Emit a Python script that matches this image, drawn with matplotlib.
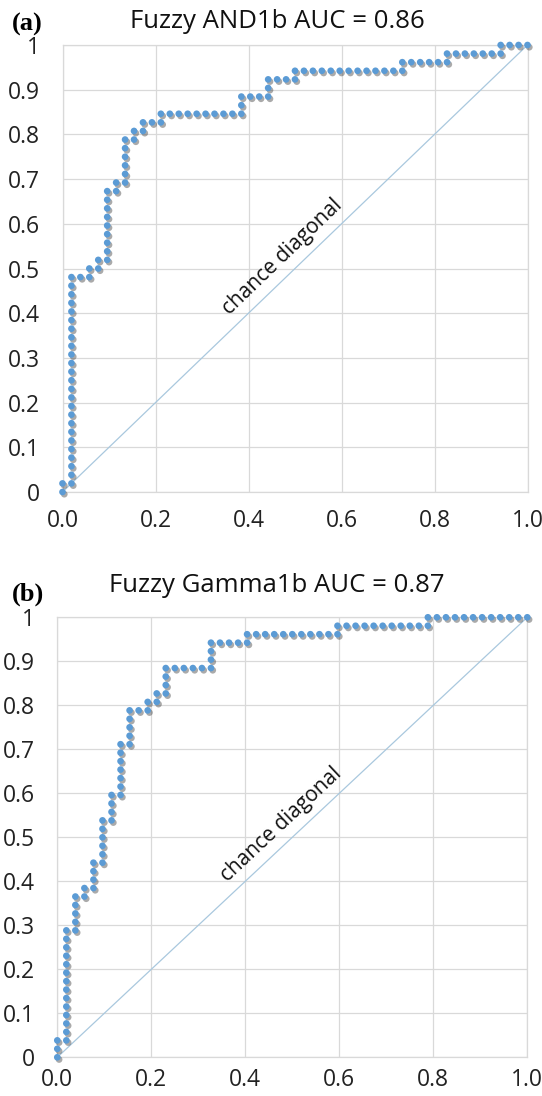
import numpy as np
import matplotlib
matplotlib.use("Agg")
import matplotlib.pyplot as plt
import matplotlib.patheffects as pe

# ROC points as counts: false positives / true positives (52 negatives, 52 positives)
n_neg = 52
n_pos = 52

fp_a = [0, 0, 1,
        1, 1, 1, 1, 1, 1, 1, 1, 1, 1, 1, 1, 1, 1, 1, 1, 1, 1, 1, 1, 1, 1, 1, 1,
        2, 3, 3, 4, 4, 5,
        5, 5, 5, 5, 5, 5, 5, 5,
        6, 6, 7,
        7, 7, 7, 7, 7,
        8, 8, 9, 9, 10, 11, 11,
        12, 13, 14, 15, 16, 17, 18, 19, 20,
        20, 20, 21, 22, 23, 23, 23, 24, 25, 26, 26,
        27, 28, 29, 30, 31, 32, 33, 34, 35, 36, 37, 38,
        38, 39, 40, 41, 42, 43,
        43, 44, 45, 46, 47, 48, 49,
        49, 50, 51, 52]
tp_a = [0, 1, 1,
        2, 3, 4, 5, 6, 7, 8, 9, 10, 11, 12, 13, 14, 15, 16, 17, 18, 19, 20, 21, 22, 23, 24, 25,
        25, 25, 26, 26, 27, 27,
        28, 29, 30, 31, 32, 33, 34, 35,
        35, 36, 36,
        37, 38, 39, 40, 41,
        41, 42, 42, 43, 43, 43, 44,
        44, 44, 44, 44, 44, 44, 44, 44, 44,
        45, 46, 46, 46, 46, 47, 48, 48, 48, 48, 49,
        49, 49, 49, 49, 49, 49, 49, 49, 49, 49, 49, 49,
        50, 50, 50, 50, 50, 50,
        51, 51, 51, 51, 51, 51, 51,
        52, 52, 52, 52]

fp_b = [0, 0, 0, 1,
        1, 1, 1, 1, 1, 1, 1, 1, 1, 1, 1, 1, 1,
        2, 2, 2, 2, 2,
        3, 3, 4, 4, 4, 4, 5, 5, 5, 5, 5, 5,
        6, 6, 6, 6, 7, 7, 7, 7, 7, 7, 7,
        8, 8, 8, 8, 8, 9, 10, 10, 11, 11, 12, 12, 12, 12,
        13, 14, 15, 16, 17, 17, 17, 17, 18, 19, 20, 21,
        21, 22, 23, 24, 25, 26, 27, 28, 29, 30, 31,
        31, 32, 33, 34, 35, 36, 37, 38, 39, 40, 41,
        41, 42, 43, 44, 45, 46, 47, 48, 49, 50, 51, 52]
tp_b = [0, 1, 2, 2,
        3, 4, 5, 6, 7, 8, 9, 10, 11, 12, 13, 14, 15,
        15, 16, 17, 18, 19,
        19, 20, 20, 21, 22, 23, 23, 24, 25, 26, 27, 28,
        28, 29, 30, 31, 31, 32, 33, 34, 35, 36, 37,
        37, 38, 39, 40, 41, 41, 41, 42, 42, 43, 43, 44, 45, 46,
        46, 46, 46, 46, 46, 47, 48, 49, 49, 49, 49, 49,
        50, 50, 50, 50, 50, 50, 50, 50, 50, 50, 50,
        51, 51, 51, 51, 51, 51, 51, 51, 51, 51, 51,
        52, 52, 52, 52, 52, 52, 52, 52, 52, 52, 52, 52]

titles = ["Fuzzy AND1b AUC = 0.86", "Fuzzy Gamma1b AUC = 0.87"]
panel_tags = ["(a)", "(b)"]
x_ticks = [0.0, 0.2, 0.4, 0.6, 0.8, 1.0]
x_labels = ["0.0", "0.2", "0.4", "0.6", "0.8", "1.0"]
y_ticks = [0, 0.1, 0.2, 0.3, 0.4, 0.5, 0.6, 0.7, 0.8, 0.9, 1.0]
y_labels = ["0", "0.1", "0.2", "0.3", "0.4", "0.5", "0.6", "0.7", "0.8", "0.9", "1"]

plt.rcParams['font.family'] = ['Open Sans', 'DejaVu Sans']

W, H = 542, 1096
fig = plt.figure(figsize=(W / 100, H / 100), dpi=100)

# axes boxes in pixels: left, top, right, bottom
boxes = [(62.5, 45, 527.5, 492), (57.3, 617.3, 527.3, 1057.3)]
title_y = [22, 585]
tag_y = [24, 594]
x_pad = [12, 8]
label_pos = [(0.474, 0.525), (0.476, 0.530)]

dot_color = '#5B9BD5'
grid_color = '#D9D9D9'

for k, (fp, tp) in enumerate([(fp_a, tp_a), (fp_b, tp_b)]):
    l, t, r, b = boxes[k]
    ax = fig.add_axes([l / W, 1 - b / H, (r - l) / W, (b - t) / H])
    ax.set_xlim(0, 1)
    ax.set_ylim(0, 1)
    ax.set_xticks(x_ticks)
    ax.set_xticklabels(x_labels, fontsize=16.5)
    ax.set_yticks(y_ticks)
    ax.set_yticklabels(y_labels, fontsize=16.5)
    ax.tick_params(length=0, colors='#222222')
    ax.tick_params(axis='x', pad=x_pad[k])
    ax.tick_params(axis='y', pad=16)
    ax.grid(True, color=grid_color, lw=0.9)
    ax.set_axisbelow(True)
    for s in ax.spines.values():
        s.set_color(grid_color)
        s.set_linewidth(0.9)

    ax.plot([0, 1], [0, 1], color='#A9C8DE', lw=0.9, zorder=2)

    fpr = np.array(fp) / n_neg
    tpr = np.array(tp) / n_pos
    ax.plot(fpr, tpr, 'o', ls='none', color=dot_color, ms=4.8, mew=0,
            clip_on=False, zorder=3,
            path_effects=[pe.SimplePatchShadow(offset=(1.3, -1.6), shadow_rgbFace='#444444', alpha=0.45),
                          pe.Normal()])

    ang = np.degrees(np.arctan2(b - t, r - l))
    ax.text(label_pos[k][0], label_pos[k][1], "chance diagonal", rotation=ang,
            rotation_mode='anchor', ha='center', va='center', fontsize=15, color='#111111')

    fig.text(277 / W, 1 - title_y[k] / H, titles[k], ha='center', va='center', fontsize=18.5, color='#111111')
    fig.text(12 / W, 1 - tag_y[k] / H, panel_tags[k], ha='left', va='center', fontsize=19,
             fontweight='bold', family='Liberation Serif')

fig.savefig('out.png', dpi=100)
